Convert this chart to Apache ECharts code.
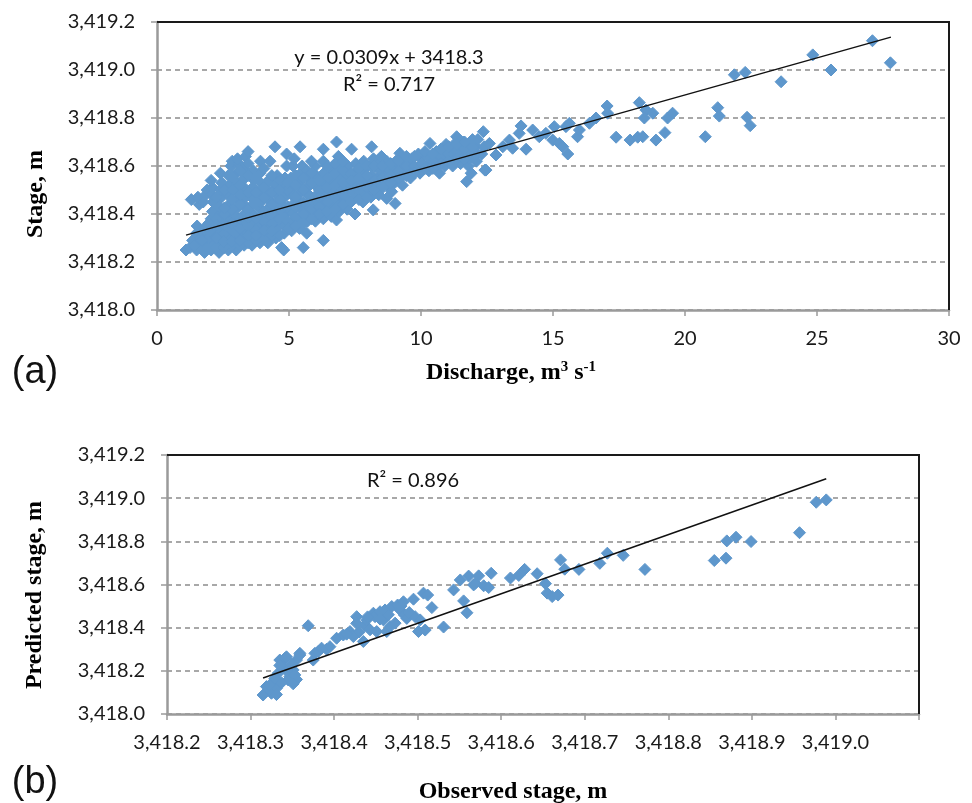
<!DOCTYPE html>
<html><head><meta charset="utf-8">
<script src="https://cdn.jsdelivr.net/npm/echarts@6/dist/echarts.min.js"></script>
<style>html,body{margin:0;padding:0;background:#fff}#c{width:972px;height:803px}</style>
</head><body><div id="c"></div>
<script>
// (a) Discharge (m3/s) vs stage (m)
const dischargeStage = [
[1.1,3418.25],[1.25,3418.26],[1.35,3418.29],[1.3,3418.46],
[1.5,3418.25],[1.55,3418.28],[1.5,3418.32],[1.52,3418.35],[1.6,3418.44],[1.55,3418.47],
[1.8,3418.24],[1.78,3418.27],[1.85,3418.31],[1.8,3418.34],[1.75,3418.45],[1.85,3418.48],[1.9,3418.5],
[2.05,3418.25],[2.1,3418.28],[2.1,3418.31],[2.15,3418.34],[2.05,3418.38],[2.1,3418.41],[2.12,3418.45],[2.08,3418.48],[2.1,3418.51],[2.05,3418.54],
[2.35,3418.24],[2.4,3418.27],[2.42,3418.3],[2.38,3418.33],[2.45,3418.37],[2.4,3418.4],[2.36,3418.43],[2.44,3418.47],[2.4,3418.5],[2.45,3418.53],[2.4,3418.57],
[2.7,3418.25],[2.72,3418.28],[2.65,3418.31],[2.7,3418.34],[2.75,3418.38],[2.68,3418.41],[2.73,3418.44],[2.7,3418.48],[2.76,3418.52],[2.7,3418.56],[2.8,3418.6],[2.85,3418.62],
[3.0,3418.25],[2.95,3418.29],[3.02,3418.32],[3.05,3418.36],[2.98,3418.39],[3.0,3418.42],[3.04,3418.46],[2.97,3418.5],[3.05,3418.53],[3.0,3418.57],[3.1,3418.61],[3.05,3418.63],
[3.3,3418.27],[3.28,3418.3],[3.35,3418.33],[3.3,3418.37],[3.32,3418.4],[3.27,3418.44],[3.35,3418.47],[3.3,3418.51],[3.33,3418.55],[3.28,3418.59],[3.35,3418.64],[3.45,3418.66],
[3.6,3418.27],[3.62,3418.3],[3.58,3418.33],[3.65,3418.37],[3.6,3418.4],[3.63,3418.44],[3.57,3418.47],[3.62,3418.51],[3.6,3418.55],[3.65,3418.58],
[3.9,3418.28],[3.92,3418.31],[3.88,3418.35],[3.95,3418.38],[3.9,3418.42],[3.93,3418.45],[3.87,3418.49],[3.92,3418.53],[3.9,3418.57],[3.92,3418.62],
[4.2,3418.28],[4.22,3418.32],[4.18,3418.35],[4.25,3418.39],[4.2,3418.42],[4.23,3418.46],[4.17,3418.5],[4.22,3418.54],[4.28,3418.62],
[4.5,3418.3],[4.52,3418.34],[4.48,3418.37],[4.55,3418.41],[4.5,3418.44],[4.53,3418.48],[4.47,3418.52],[4.55,3418.56],[4.47,3418.68],[4.72,3418.26],
[4.8,3418.25],[4.82,3418.32],[4.78,3418.36],[4.85,3418.4],[4.8,3418.43],[4.83,3418.47],[4.77,3418.51],[4.85,3418.55],[4.91,3418.6],[4.91,3418.65],
[5.1,3418.33],[5.12,3418.37],[5.08,3418.41],[5.15,3418.44],[5.1,3418.48],[5.13,3418.51],[5.07,3418.55],[5.15,3418.6],[5.2,3418.63],
[5.42,3418.68],[5.54,3418.26],[5.4,3418.34],[5.42,3418.38],[5.45,3418.42],[5.38,3418.45],[5.43,3418.49],[5.4,3418.53],[5.45,3418.57],[5.5,3418.6],
[5.67,3418.32],[5.7,3418.37],[5.72,3418.41],[5.68,3418.44],[5.75,3418.48],[5.7,3418.51],[5.73,3418.55],[5.68,3418.58],
[6.0,3418.37],[6.02,3418.41],[5.98,3418.45],[6.05,3418.48],[6.0,3418.52],[6.03,3418.56],[6.0,3418.6],
[6.3,3418.29],[6.3,3418.38],[6.33,3418.42],[6.28,3418.46],[6.35,3418.49],[6.3,3418.53],[6.32,3418.57],[6.3,3418.62],[6.3,3418.67],
[6.6,3418.39],[6.62,3418.43],[6.58,3418.47],[6.65,3418.5],[6.6,3418.54],[6.63,3418.58],[6.8,3418.7],[6.8,3418.375],
[6.9,3418.41],[6.92,3418.45],[6.88,3418.48],[6.95,3418.52],[6.9,3418.55],[6.93,3418.59],[6.87,3418.64],
[7.2,3418.42],[7.22,3418.46],[7.18,3418.5],[7.25,3418.53],[7.2,3418.56],[7.23,3418.6],[7.37,3418.67],
[7.5,3418.4],[7.52,3418.47],[7.48,3418.51],[7.55,3418.54],[7.5,3418.57],[7.53,3418.61],
[7.8,3418.45],[7.82,3418.49],[7.78,3418.52],[7.85,3418.55],[7.8,3418.58],[7.83,3418.62],
[8.19,3418.417],[8.1,3418.47],[8.12,3418.5],[8.08,3418.53],[8.15,3418.56],[8.1,3418.6],[8.13,3418.68],[8.2,3418.63],
[8.4,3418.48],[8.42,3418.52],[8.38,3418.55],[8.45,3418.58],[8.4,3418.61],[8.5,3418.64],
[8.7,3418.465],[8.72,3418.52],[8.68,3418.56],[8.75,3418.59],[8.7,3418.62],[8.89,3418.493],[9.02,3418.444],
[9.0,3418.53],[9.02,3418.56],[8.98,3418.59],[9.05,3418.62],[9.2,3418.653],
[9.3,3418.52],[9.32,3418.56],[9.28,3418.59],[9.35,3418.62],
[9.6,3418.55],[9.62,3418.58],[9.58,3418.61],[9.65,3418.63],
[9.96,3418.57],[9.95,3418.6],[10.0,3418.63],[9.9,3418.65],
[10.3,3418.58],[10.32,3418.61],[10.28,3418.64],[10.34,3418.694],[10.7,3418.57],
[10.6,3418.6],[10.62,3418.63],[10.58,3418.66],
[10.9,3418.6],[10.92,3418.63],[10.88,3418.66],[10.95,3418.69],
[11.2,3418.6],[11.22,3418.63],[11.18,3418.66],[11.35,3418.722],[11.25,3418.69],
[11.5,3418.61],[11.52,3418.64],[11.48,3418.67],[11.73,3418.535],[11.6,3418.7],
[11.8,3418.6],[11.82,3418.63],[11.78,3418.66],[11.85,3418.69],[11.9,3418.57],
[12.1,3418.62],[12.12,3418.65],[12.08,3418.68],[12.15,3418.71],[12.36,3418.743],[12.42,3418.583],[12.3,3418.65],[12.4,3418.68],
[1.65,3418.26],[1.95,3418.26],[2.25,3418.26],[2.55,3418.26],[2.85,3418.27],[3.15,3418.27],[3.45,3418.28],[3.75,3418.29],[4.05,3418.3],[4.35,3418.31],
[1.65,3418.3],[1.95,3418.3],[2.25,3418.3],[2.55,3418.32],[2.85,3418.33],[3.15,3418.34],[3.45,3418.35],[3.75,3418.33],[4.05,3418.37],[4.35,3418.36],
[4.65,3418.38],[4.95,3418.37],[5.25,3418.39],[5.55,3418.4],[5.85,3418.42],[6.15,3418.43],[6.45,3418.45],[6.75,3418.47],[7.05,3418.48],[7.35,3418.5],
[7.65,3418.5],[7.95,3418.51],[8.25,3418.54],[8.55,3418.55],[8.85,3418.56],[9.15,3418.58],[9.45,3418.6],[9.75,3418.6],[10.05,3418.61],[10.45,3418.62],
[10.75,3418.64],[11.05,3418.65],[11.35,3418.66],[11.65,3418.67],[11.95,3418.68],
[1.95,3418.36],[2.25,3418.38],[2.55,3418.4],[2.85,3418.42],[3.15,3418.44],[3.45,3418.42],[3.75,3418.45],[4.05,3418.47],[4.35,3418.44],[4.65,3418.46],
[4.95,3418.5],[5.25,3418.47],[5.55,3418.5],[5.85,3418.53],[6.15,3418.5],[6.45,3418.55],[6.75,3418.57],[7.05,3418.58],[7.35,3418.57],[7.65,3418.59],[7.95,3418.6],
[2.25,3418.47],[2.55,3418.5],[2.85,3418.5],[3.15,3418.52],[3.45,3418.56],[4.65,3418.54],[5.25,3418.56],[5.85,3418.62],
[1.4,3418.27],[1.7,3418.29],[2.0,3418.33],[2.25,3418.355],[2.55,3418.285],[2.55,3418.355],[2.55,3418.425],[2.85,3418.285],[2.85,3418.36],
[2.85,3418.46],[2.85,3418.555],[3.15,3418.29],[3.15,3418.38],[3.15,3418.48],[3.15,3418.58],[3.45,3418.31],[3.45,3418.385],[3.45,3418.49],
[3.45,3418.61],[3.75,3418.31],[3.75,3418.38],[3.75,3418.49],[3.75,3418.55],[4.05,3418.33],[4.05,3418.41],[4.05,3418.51],[4.05,3418.59],
[4.35,3418.33],[4.35,3418.4],[4.35,3418.49],[4.35,3418.56],[4.65,3418.31],[4.65,3418.42],[4.65,3418.5],[4.95,3418.34],[4.95,3418.43],
[4.95,3418.53],[5.25,3418.35],[5.25,3418.43],[5.25,3418.52],[5.55,3418.36],[5.55,3418.45],[5.55,3418.55],[5.85,3418.38],[5.85,3418.46],
[5.85,3418.57],[6.15,3418.4],[6.15,3418.47],[6.15,3418.54],[6.45,3418.41],[6.45,3418.51],[6.45,3418.6],[6.75,3418.42],[6.75,3418.52],
[6.75,3418.61],[7.05,3418.44],[7.05,3418.53],[7.05,3418.62],[7.35,3418.45],[7.35,3418.54],[7.65,3418.46],[7.65,3418.55],[7.95,3418.47],
[7.95,3418.56],[8.25,3418.5],[8.25,3418.6],[8.55,3418.51],[8.55,3418.6],[8.85,3418.53],[8.85,3418.61],[9.15,3418.55],[9.15,3418.62],
[9.45,3418.56],[9.45,3418.64],[9.75,3418.57],[9.75,3418.64],[10.15,3418.59],[10.15,3418.66],[10.45,3418.59],[10.45,3418.65],[10.75,3418.61],
[10.75,3418.67],[11.05,3418.62],[11.05,3418.68],[11.35,3418.63],[11.35,3418.69],[11.65,3418.63],[11.65,3418.7],[11.95,3418.64],[11.95,3418.71],
[12.46,3418.583],[12.59,3418.694],[12.84,3418.646],[13.1,3418.68],[13.35,3418.708],[13.47,3418.674],[13.72,3418.736],[13.79,3418.767],
[13.98,3418.67],[14.23,3418.75],[14.48,3418.722],[14.73,3418.736],[14.99,3418.708],[15.05,3418.764],[15.24,3418.694],[15.37,3418.68],
[15.56,3418.65],[15.49,3418.764],[15.62,3418.778],[15.93,3418.722],[16.0,3418.75],[16.38,3418.778],[16.63,3418.8],[17.05,3418.85],
[17.07,3418.82],[17.39,3418.72],[17.92,3418.708],[18.21,3418.72],[18.4,3418.722],[18.27,3418.864],[18.52,3418.833],[18.46,3418.8],
[18.78,3418.82],[18.9,3418.708],[19.24,3418.739],[19.34,3418.8],[19.53,3418.82],[20.77,3418.722],[21.24,3418.843],[21.3,3418.808],
[22.35,3418.803],[22.47,3418.768],[21.87,3418.98],[22.28,3418.99],[23.64,3418.951],[24.84,3419.063],[25.53,3419.0],[27.1,3419.122],[27.78,3419.03]
];
const trendA = [[1.1,3418.312],[27.8,3419.137]];

// (b) Observed vs predicted stage (m)
const observedPredicted = [
[3418.315,3418.088],[3418.319,3418.127],[3418.327,3418.142],[3418.325,3418.096],[3418.323,3418.11],[3418.331,3418.119],[3418.323,3418.134],
[3418.333,3418.189],[3418.335,3418.25],[3418.341,3418.258],[3418.339,3418.219],[3418.347,3418.173],[3418.345,3418.158],[3418.351,3418.204],
[3418.355,3418.25],[3418.359,3418.281],[3418.353,3418.181],[3418.343,3418.265],[3418.359,3418.273],
[3418.329,3418.165],[3418.337,3418.145],[3418.343,3418.2],[3418.349,3418.23],[3418.335,3418.225],[3418.331,3418.09],[3418.355,3418.16],[3418.351,3418.14],
[3418.369,3418.409],
[3418.375,3418.25],[3418.377,3418.281],[3418.381,3418.289],[3418.385,3418.305],[3418.391,3418.3],[3418.395,3418.312],[3418.403,3418.351],
[3418.411,3418.366],[3418.419,3418.382],[3418.423,3418.359],[3418.427,3418.451],[3418.435,3418.336],[3418.437,3418.412],[3418.439,3418.436],
[3418.443,3418.39],[3418.447,3418.467],[3418.449,3418.451],[3418.451,3418.382],[3418.455,3418.474],[3418.459,3418.436],[3418.461,3418.482],
[3418.463,3418.382],[3418.467,3418.405],[3418.469,3418.498],[3418.473,3418.421],[3418.476,3418.505],[3418.479,3418.482],[3418.483,3418.52],
[3418.484,3418.459],[3418.487,3418.443],[3418.495,3418.532],[3418.497,3418.451],[3418.501,3418.382],[3418.503,3418.436],[3418.507,3418.56],
[3418.509,3418.389],[3418.512,3418.551],[3418.517,3418.493],[3418.531,3418.403],
[3418.427,3418.42],[3418.44,3418.45],[3418.455,3418.44],[3418.465,3418.46],[3418.48,3418.5],[3418.49,3418.47],[3418.415,3418.37],[3418.43,3418.38],
[3418.543,3418.575],[3418.551,3418.621],[3418.555,3418.524],[3418.559,3418.469],[3418.561,3418.639],[3418.567,3418.598],[3418.569,3418.606],
[3418.573,3418.64],[3418.579,3418.594],[3418.585,3418.586],[3418.588,3418.652],[3418.611,3418.63],[3418.621,3418.642],[3418.628,3418.67],
[3418.643,3418.65],[3418.653,3418.604],[3418.655,3418.56],[3418.661,3418.544],[3418.668,3418.551],[3418.671,3418.714],[3418.676,3418.671],
[3418.693,3418.67],[3418.718,3418.698],[3418.727,3418.745],[3418.746,3418.735],[3418.772,3418.67],
[3418.855,3418.711],[3418.869,3418.722],[3418.870,3418.802],[3418.881,3418.819],[3418.899,3418.799],[3418.957,3418.840],[3418.977,3418.981],[3418.989,3418.992]
];
const trendB = [[3418.315,3418.167],[3418.989,3419.090]];

const yTicks = {min: 3418.0, max: 3419.2, interval: 0.2};
const xTicksA = {min: 0, max: 30, interval: 5};
const xTicksB = {min: 3418.2, max: 3419.1, interval: 0.1};

const textA = {eq: 'y = 0.0309x + 3418.3', r2: 'R² = 0.717', tag: '(a)', xName: 'Discharge, m', yName: 'Stage, m'};
const textB = {r2: 'R² = 0.896', tag: '(b)', xName: 'Observed stage, m', yName: 'Predicted stage, m'};

const BLUE = '#5e97cc';
const LABEL_FONT = 'Lato';
const TITLE_FONT = "'Liberation Serif', 'Times New Roman', serif";

function fmtStage(v) {
  const s = v.toFixed(1);
  return s.slice(0, 1) + ',' + s.slice(1);
}

function xAxisBase(idx, t, fmt) {
  return {
    type: 'value', gridIndex: idx, min: t.min, max: t.max, interval: t.interval,
    axisLine: {show: true, onZero: false, lineStyle: {color: '#9a9a9a', width: 2.5}},
    axisTick: {show: true, length: 6, lineStyle: {color: '#9a9a9a', width: 1.5}},
    axisLabel: {color: '#1a1a1a', fontFamily: LABEL_FONT, fontSize: 20, margin: 19, formatter: fmt},
    splitLine: {show: false}
  };
}
function yAxisBase(idx) {
  return {
    type: 'value', gridIndex: idx, min: yTicks.min, max: yTicks.max, interval: yTicks.interval,
    axisLine: {show: true, onZero: false, lineStyle: {color: '#9a9a9a', width: 2.5}},
    axisTick: {show: true, length: 6, lineStyle: {color: '#9a9a9a', width: 1.5}},
    axisLabel: {color: '#1a1a1a', fontFamily: LABEL_FONT, fontSize: 20, margin: 22, formatter: fmtStage},
    splitLine: {show: true, lineStyle: {color: '#8c8c8c', width: 1.5, type: [5, 4]}}
  };
}

const markerStyle = {color: BLUE, opacity: 1, borderColor: BLUE, borderWidth: 1};

const chart = echarts.init(document.getElementById('c'), null, {renderer: 'canvas'});
chart.setOption({
  animation: false,
  backgroundColor: '#ffffff',
  grid: [
    {left: 157, top: 22, right: 23, bottom: 493},
    {left: 167, top: 455, right: 53, bottom: 89}
  ],
  xAxis: [
    xAxisBase(0, xTicksA, v => String(v)),
    xAxisBase(1, xTicksB, v => (v > 3419.05 ? '' : fmtStage(v)))
  ],
  yAxis: [yAxisBase(0), yAxisBase(1)],
  series: [
    {type: 'scatter', xAxisIndex: 0, yAxisIndex: 0, data: dischargeStage, symbol: 'diamond', symbolSize: 12,
     itemStyle: markerStyle, z: 3},
    {type: 'line', xAxisIndex: 0, yAxisIndex: 0, data: trendA, showSymbol: false, symbol: 'none',
     lineStyle: {color: '#111', width: 1.5}, z: 4},
    {type: 'scatter', xAxisIndex: 1, yAxisIndex: 1, data: observedPredicted, symbol: 'diamond', symbolSize: 12,
     itemStyle: markerStyle, z: 3},
    {type: 'line', xAxisIndex: 1, yAxisIndex: 1, data: trendB, showSymbol: false, symbol: 'none',
     lineStyle: {color: '#111', width: 1.5}, z: 4}
  ],
  graphic: [
    {type: 'polyline', shape: {points: [[157, 22], [949, 22], [949, 310]]}, style: {stroke: '#1a1a1a', lineWidth: 2, fill: null}, z: 100},
    {type: 'polyline', shape: {points: [[167, 455], [919, 455], [919, 714]]}, style: {stroke: '#1a1a1a', lineWidth: 2, fill: null}, z: 100},
    {type: 'text', x: 389, y: 58, style: {text: textA.eq, font: '20px Lato', fill: '#111', align: 'center', verticalAlign: 'middle'}, z: 101},
    {type: 'text', x: 389, y: 85, style: {text: textA.r2, font: '20px Lato', fill: '#111', align: 'center', verticalAlign: 'middle'}, z: 101},
    {type: 'text', x: 413, y: 481, style: {text: textB.r2, font: '20px Lato', fill: '#111', align: 'center', verticalAlign: 'middle'}, z: 101},
    {type: 'text', x: 36, y: 194, rotation: Math.PI / 2, style: {text: textA.yName, font: 'bold 24px ' + TITLE_FONT, fill: '#000', align: 'center', verticalAlign: 'middle'}},
    {type: 'text', x: 35, y: 595, rotation: Math.PI / 2, style: {text: textB.yName, font: 'bold 24px ' + TITLE_FONT, fill: '#000', align: 'center', verticalAlign: 'middle'}},
    {type: 'text', x: 511, y: 373, style: {
      text: '{a|' + textA.xName + '}{s|3}{a| s}{s|-1}', align: 'center', verticalAlign: 'middle',
      rich: {
        a: {font: 'bold 24px ' + TITLE_FONT, fill: '#000', lineHeight: 26},
        s: {font: 'bold 15px ' + TITLE_FONT, fill: '#000', verticalAlign: 'top', lineHeight: 26, padding: [0, 0, 9, 0]}
      }}},
    {type: 'text', x: 513, y: 792, style: {text: textB.xName, font: 'bold 24px ' + TITLE_FONT, fill: '#000', align: 'center', verticalAlign: 'middle'}},
    {type: 'text', x: 35, y: 373, style: {text: textA.tag, font: '38px "Liberation Sans"', fill: '#111', align: 'center', verticalAlign: 'middle'}},
    {type: 'text', x: 35, y: 783, style: {text: textB.tag, font: '38px "Liberation Sans"', fill: '#111', align: 'center', verticalAlign: 'middle'}}
  ]
});
</script>
</body></html>
